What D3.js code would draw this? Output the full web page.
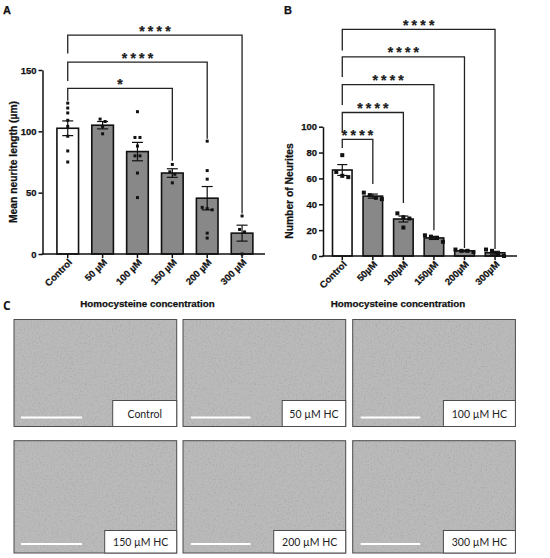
<!DOCTYPE html>
<html>
<head>
<meta charset="utf-8">
<script src="https://cdn.jsdelivr.net/npm/d3@7"></script>
<style>
body { margin: 0; background: #fff; }
svg { display: block; }
</style>
</head>
<body>
<script>
// Panel A: mean neurite length
const categoriesA = ["Control", "50 µM", "100 µM", "150 µM", "200 µM", "300 µM"];
const meansA = [102.5, 105, 83.5, 66, 45.5, 17];
const semA = [6, 3, 7.5, 3.5, 9.5, 6.5];
const pointsA = [
    [123, 119, 115, 109, 104, 96, 84, 75],
    [110, 108, 104, 98],
    [116, 95, 95, 88, 80, 80, 66, 46],
    [73, 67, 65, 58],
    [92, 68, 61, 38, 37, 36, 17, 13],
    [31, 20, 18, 0]
];
const ticksA = [0, 50, 100, 150];
const sigTargetsA = ["150 µM", "200 µM", "300 µM"];
const sigLabelsA = ["*", "****", "****"];
const sigLevelsA = [135, 156.5, 178.5];
const sigLeftEndsA = [125, 141, 163.5];
const sigRightEndsA = [76, 94, 33];

// Panel B: number of neurites
const categoriesB = ["Control", "50µM", "100µM", "150µM", "200µM", "300µM"];
const meansB = [66.5, 46.3, 28.6, 14, 4, 2.5];
const semB = [4.2, 1.6, 2.3, 1.2, 0.6, 1.1];
const pointsB = [
    [78, 65, 62, 61],
    [49, 47, 45, 44],
    [33, 30, 29, 22],
    [16, 15, 14, 11],
    [5, 4, 4, 3],
    [5, 4, 1, 0]
];
const ticksB = [0, 20, 40, 60, 80, 100];
const sigTargetsB = ["50µM", "100µM", "150µM", "200µM", "300µM"];
const sigLabelsB = ["****", "****", "****", "****", "****"];
const sigLevelsB = [90.2, 111, 132.5, 154, 175.3];
const sigLeftEndsB = [83.5, 95.4, 116.8, 138.4, 159];
const sigRightEndsB = [55.7, 41, 20, 6.2, 5.4];

// Panel C: micrographs
const imageLabels = ["Control", "50 µM HC", "100 µM HC", "150 µM HC", "200 µM HC", "300 µM HC"];

const chartFont = "Liberation Sans, Arial, Helvetica, sans-serif";
const barGrey = "#888888";

const svg = d3.select("body").append("svg")
    .attr("width", 550)
    .attr("height", 558);

const defs = svg.append("defs");
const grain = defs.append("filter").attr("id", "grain")
    .attr("x", 0).attr("y", 0).attr("width", 1).attr("height", 1);
grain.append("feTurbulence")
    .attr("type", "fractalNoise")
    .attr("baseFrequency", 0.6)
    .attr("numOctaves", 2)
    .attr("seed", 4)
    .attr("result", "noise");
grain.append("feColorMatrix")
    .attr("in", "noise")
    .attr("type", "matrix")
    .attr("values", "0 0 0 0 0  0 0 0 0 0  0 0 0 0 0  0 0 0 -1.2 0.62")
    .attr("result", "dark");
grain.append("feComposite")
    .attr("in", "dark")
    .attr("in2", "SourceGraphic")
    .attr("operator", "in");

// spread points that sit at nearly the same height
function swarm(values, y, minGap, spacing) {
    const order = values.map((v, i) => i).sort((a, b) => values[b] - values[a]);
    const offsets = new Array(values.length).fill(0);
    let cluster = [];
    const flush = () => {
        cluster.forEach((idx, k) => {
            offsets[idx] = (k - (cluster.length - 1) / 2) * spacing;
        });
        cluster = [];
    };
    order.forEach(idx => {
        if (cluster.length && Math.abs(y(values[idx]) - y(values[cluster[cluster.length - 1]])) >= minGap) flush();
        cluster.push(idx);
    });
    flush();
    return offsets;
}

// bold sans text, with a hairline stroke so it reads as heavy as the original
function setFont(sel, size) {
    sel.attr("font-family", chartFont)
        .attr("font-size", size)
        .attr("font-weight", "bold")
        .attr("stroke", "#111")
        .attr("stroke-width", 0.25);
}

function drawPanel(cfg) {
    const g = svg.append("g");

    const x = d3.scaleBand()
        .domain(cfg.categories)
        .range(cfg.xRange)
        .paddingInner(cfg.padInner)
        .paddingOuter(cfg.padInner / 2);
    const y = d3.scaleLinear().domain(cfg.yDomain).range(cfg.yRange);
    const cx = c => x(c) + x.bandwidth() / 2;

    // bars
    g.selectAll(".bar")
        .data(cfg.categories)
        .join("rect")
        .attr("class", "bar")
        .attr("x", c => x(c))
        .attr("width", x.bandwidth())
        .attr("y", (c, i) => y(cfg.means[i]))
        .attr("height", (c, i) => y(0) - y(cfg.means[i]))
        .attr("fill", (c, i) => i === 0 ? "#fff" : barGrey)
        .attr("stroke", "#111")
        .attr("stroke-width", 1.6);

    // error bars
    const err = g.selectAll(".err")
        .data(cfg.categories)
        .join("g")
        .attr("class", "err")
        .attr("stroke", "#111")
        .attr("stroke-width", 1.2);
    err.append("line")
        .attr("x1", c => cx(c)).attr("x2", c => cx(c))
        .attr("y1", (c, i) => y(cfg.means[i] - cfg.sem[i]))
        .attr("y2", (c, i) => y(cfg.means[i] + cfg.sem[i]));
    [-1, 1].forEach(sign => {
        err.append("line")
            .attr("x1", c => cx(c) - cfg.capW / 2)
            .attr("x2", c => cx(c) + cfg.capW / 2)
            .attr("y1", (c, i) => y(cfg.means[i] + sign * cfg.sem[i]))
            .attr("y2", (c, i) => y(cfg.means[i] + sign * cfg.sem[i]));
    });

    // individual points
    cfg.categories.forEach((c, i) => {
        const vals = cfg.points[i];
        const offs = swarm(vals, y, cfg.pointSize + 0.8, cfg.pointSize + 2);
        g.selectAll(null)
            .data(vals)
            .join("rect")
            .attr("x", (v, k) => cx(c) + offs[k] - cfg.pointSize / 2)
            .attr("y", v => y(v) - cfg.pointSize / 2)
            .attr("width", cfg.pointSize)
            .attr("height", cfg.pointSize)
            .attr("fill", "#111");
    });

    // y axis
    g.append("g")
        .attr("transform", `translate(${cfg.axisX},0)`)
        .call(d3.axisLeft(y).tickValues(cfg.ticks).tickSize(4).tickSizeOuter(0).tickPadding(2))
        .call(a => a.selectAll("path, line").attr("stroke", "#111").attr("stroke-width", 1.5))
        .call(a => a.selectAll("text").attr("fill", "#111").call(s => setFont(s, 9.5)));

    // x axis
    const y0 = y(0);
    g.append("g")
        .attr("transform", `translate(0,${y0})`)
        .call(d3.axisBottom(x).tickSize(4).tickSizeOuter(0))
        .call(a => a.select(".domain").remove())
        .call(a => a.selectAll("line").attr("stroke", "#111").attr("stroke-width", 1.5))
        .call(a => a.selectAll("text")
            .attr("y", 0)
            .attr("dy", null)
            .attr("text-anchor", "end")
            .attr("transform", "translate(5,9) rotate(-45)")
            .attr("fill", "#111")
            .call(s => setFont(s, 9.5)));
    g.append("line")
        .attr("x1", cfg.axisX - 0.75).attr("x2", cfg.axisEnd)
        .attr("y1", y0).attr("y2", y0)
        .attr("stroke", "#111")
        .attr("stroke-width", 1.5);

    // significance brackets
    cfg.sigTargets.forEach((t, i) => {
        const xa = cx(cfg.categories[0]);
        const xb = cx(t);
        g.append("path")
            .attr("d", `M${xa},${y(cfg.sigLeft[i])}V${y(cfg.sigLevels[i])}H${xb}V${y(cfg.sigRight[i])}`)
            .attr("fill", "none")
            .attr("stroke", "#222")
            .attr("stroke-width", 1.3);
        g.append("text")
            .attr("x", (xa + xb) / 2 + 1.6)
            .attr("y", y(cfg.sigLevels[i]) + 0.5)
            .attr("text-anchor", "middle")
            .attr("letter-spacing", 3.2)
            .attr("fill", "#222")
            .call(s => setFont(s, 14))
            .text(cfg.sigLabels[i]);
    });

    // titles
    g.append("text")
        .attr("transform", `translate(${cfg.yTitleX},${cfg.yTitleY}) rotate(-90)`)
        .attr("text-anchor", "middle")
        .attr("fill", "#111")
        .call(s => setFont(s, 10.3))
        .text(cfg.yTitle);
    g.append("text")
        .attr("x", cfg.xTitleX)
        .attr("y", 307)
        .attr("text-anchor", "middle")
        .attr("fill", "#111")
        .call(s => setFont(s, 9.8))
        .text("Homocysteine concentration");
    g.append("text")
        .attr("x", cfg.letterX)
        .attr("y", 14)
        .attr("fill", "#111")
        .call(s => setFont(s, 11))
        .text(cfg.letter);
}

drawPanel({
    letter: "A", letterX: 3,
    categories: categoriesA, means: meansA, sem: semA, points: pointsA, ticks: ticksA,
    sigTargets: sigTargetsA, sigLabels: sigLabelsA, sigLevels: sigLevelsA,
    sigLeft: sigLeftEndsA, sigRight: sigRightEndsA,
    xRange: [50.3, 259.5], padInner: 0.38,
    yDomain: [0, 150], yRange: [254, 70],
    axisX: 42.5, axisEnd: 265,
    capW: 11, pointSize: 3,
    yTitle: "Mean neurite length (µm)", yTitleX: 17, yTitleY: 162,
    xTitleX: 147.5
});

drawPanel({
    letter: "B", letterX: 284,
    categories: categoriesB, means: meansB, sem: semB, points: pointsB, ticks: ticksB,
    sigTargets: sigTargetsB, sigLabels: sigLabelsB, sigLevels: sigLevelsB,
    sigLeft: sigLeftEndsB, sigRight: sigRightEndsB,
    xRange: [327, 510.3], padInner: 0.36,
    yDomain: [0, 100], yRange: [256, 126.7],
    axisX: 323, axisEnd: 517,
    capW: 10, pointSize: 4,
    yTitle: "Number of Neurites", yTitleX: 293, yTitleY: 191,
    xTitleX: 398
});

// Panel C: micrograph grid with labels and scale bars
svg.append("text")
    .attr("x", 3).attr("y", 310)
    .attr("fill", "#111")
    .attr("font-family", "Open Sans, sans-serif")
    .attr("font-size", 12)
    .attr("font-weight", "bold")
    .text("C");

const colX = [14, 183, 352.7];
const imgW = 162.7;
const rowY = [319.5, 440.7];
const rowH = [107, 112.3];
const boxW = [64, 63.5, 72, 72, 72, 72];
const boxH = [26, 22.5];

const tiles = svg.selectAll(".tile")
    .data(imageLabels)
    .join("g")
    .attr("class", "tile")
    .attr("transform", (d, i) => `translate(${colX[i % 3]},${rowY[Math.floor(i / 3)]})`);

tiles.append("rect")
    .attr("width", imgW)
    .attr("height", (d, i) => rowH[Math.floor(i / 3)])
    .attr("fill", "#bababa");
tiles.append("rect")
    .attr("width", imgW)
    .attr("height", (d, i) => rowH[Math.floor(i / 3)])
    .attr("fill", "#fff")
    .attr("filter", "url(#grain)")
    .attr("opacity", 0.18);
tiles.append("rect")
    .attr("width", imgW)
    .attr("height", (d, i) => rowH[Math.floor(i / 3)])
    .attr("fill", "none")
    .attr("stroke", "#4d4d4d")
    .attr("stroke-width", 1);

tiles.append("line")
    .attr("x1", (d, i) => i % 3 === 0 ? 7 : 8)
    .attr("x2", (d, i) => i % 3 === 0 ? 68 : 67.5)
    .attr("y1", (d, i) => rowH[Math.floor(i / 3)] - 9)
    .attr("y2", (d, i) => rowH[Math.floor(i / 3)] - 9)
    .attr("stroke", "#fff")
    .attr("stroke-width", 2);

tiles.append("rect")
    .attr("x", (d, i) => imgW - boxW[i])
    .attr("y", (d, i) => rowH[Math.floor(i / 3)] - boxH[Math.floor(i / 3)])
    .attr("width", (d, i) => boxW[i])
    .attr("height", (d, i) => boxH[Math.floor(i / 3)])
    .attr("fill", "#fff")
    .attr("stroke", "#4d4d4d")
    .attr("stroke-width", 1);

tiles.append("text")
    .attr("x", (d, i) => imgW - boxW[i] / 2)
    .attr("y", (d, i) => rowH[Math.floor(i / 3)] - boxH[Math.floor(i / 3)] / 2 + 4.5)
    .attr("text-anchor", "middle")
    .attr("fill", "#222")
    .attr("font-family", "Lato, sans-serif")
    .attr("font-size", 10.5)
    .text(d => d);
</script>
</body>
</html>
